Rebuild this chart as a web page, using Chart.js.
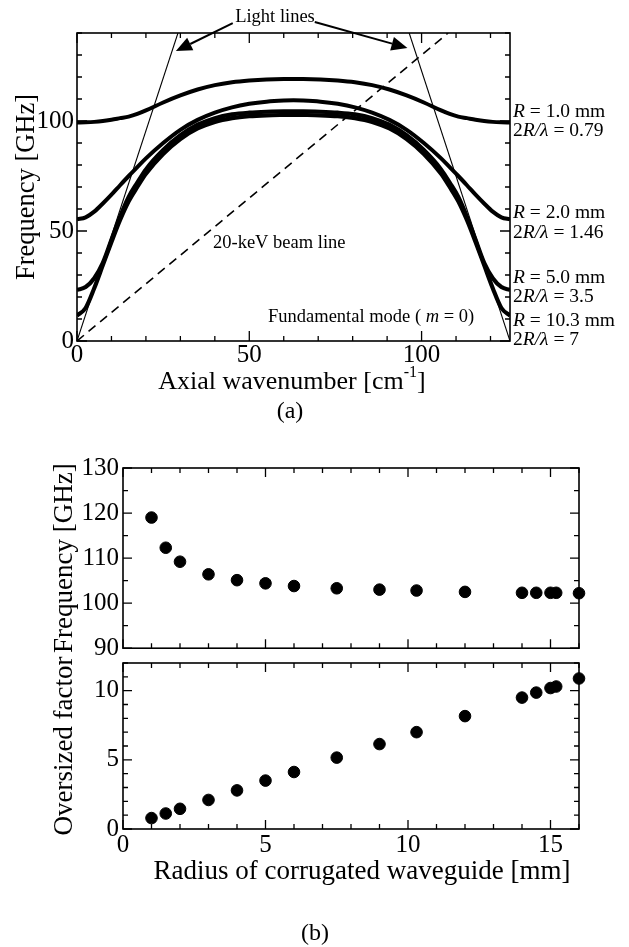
<!DOCTYPE html>
<html><head><meta charset="utf-8">
<script src="https://cdn.jsdelivr.net/npm/chart.js@4.4.1/dist/chart.umd.min.js"></script>
<style>
html,body{margin:0;padding:0;background:#fff;}
body{width:629px;height:947px;position:relative;overflow:hidden;font-family:'Liberation Serif','Times New Roman',serif;}
.c{position:absolute;left:0;width:629px;}
.lbl{position:absolute;font-size:24px;color:#000;transform:translate(-50%,-50%);white-space:nowrap;line-height:1;}
</style></head><body>
<div class="c" style="top:0;height:400px"><canvas id="ca"></canvas></div>
<div class="c" style="top:440px;height:215px"><canvas id="cb1"></canvas></div>
<div class="c" style="top:655px;height:292px"><canvas id="cb2"></canvas></div>
<div class="lbl" style="left:290px;top:410px">(a)</div>
<div class="lbl" style="left:315px;top:932px">(b)</div>
<script>
// ---------- (a) dispersion curves ----------
const kA = [0,2.5,5,7.5,10,12.5,15,17.5,20,25,30,35,40,45,50,55,60,62.83,65.66,70.66,75.66,80.66,85.66,90.66,95.66,100.66,105.66,108.16,110.66,113.16,115.66,118.16,120.66,123.16,125.66];
const fR1 = [99.3,99.4,99.6,100.0,100.6,101.3,102.0,103.2,104.8,108.4,111.6,114.3,116.3,117.6,118.4,118.9,119.1,119.1,119.1,118.9,118.4,117.6,116.3,114.3,111.6,108.4,104.8,103.2,102.0,101.3,100.6,100.0,99.6,99.4,99.3];
const fR2 = [55.3,56.2,58.8,62.5,66.5,70.8,75.0,79.0,83.0,90.0,96.0,100.5,103.8,106.2,107.8,108.8,109.3,109.4,109.3,108.8,107.8,106.2,103.8,100.5,96.0,90.0,83.0,79.0,75.0,70.8,66.5,62.5,58.8,56.2,55.3];
const fR5 = [23.2,24.5,28.5,35.5,46.0,56.5,65.5,72.0,78.0,86.8,93.5,98.3,101.3,103.0,103.8,104.2,104.4,104.4,104.4,104.2,103.8,103.0,101.3,98.3,93.5,86.8,78.0,72.0,65.5,56.5,46.0,35.5,28.5,24.5,23.2];
const fR10 = [11.5,15.0,24.0,34.5,45.0,55.0,63.5,70.0,76.0,85.0,91.8,96.6,99.6,101.3,102.2,102.6,102.75,102.8,102.75,102.6,102.2,101.3,99.6,96.6,91.8,85.0,76.0,70.0,63.5,55.0,45.0,34.5,24.0,15.0,11.5];
const lightLeftK = [0, 29.3];
const lightLeftF = [0, 140];
const lightRightK = [125.66, 96.4];
const lightRightF = [0, 140];
const beamK = [0, 107.7];
const beamF = [0, 140];
const aXLabels = [0,50,100];
const aYLabels = [0,50,100];
const aXMinor = [10,20,30,40,60,70,80,90,110,120];
const aYMinor = [10,20,30,40,60,70,80,90,110,120,130,140];

// ---------- (b) ----------
const radius = [1,1.5,2,3,4,5,6,7.5,9,10.3,12,14,14.5,15,15.2,16];
const freqB = [119.0,112.3,109.2,106.4,105.1,104.4,103.8,103.3,103.0,102.8,102.5,102.3,102.3,102.3,102.3,102.2];
const overB = [0.79,1.12,1.46,2.1,2.79,3.5,4.12,5.16,6.14,7.0,8.16,9.5,9.86,10.19,10.3,10.88];
const bXLabels = [0,5,10,15];
const bXMinor = [1,2,3,4,6,7,8,9,11,12,13,14,16];
const b1YLabels = [90,100,110,120,130];
const b1YMinor = [95,105,115,125];
const b2YLabels = [0,5,10];
const b2YMinor = [1,2,3,4,6,7,8,9,11,12];

const FONT = "'Liberation Serif','Times New Roman',serif";
const pts = (xs, ys) => xs.map((v,i)=>({x:v, y:ys[i]}));
const noPad = s => { s.paddingTop=0; s.paddingBottom=0; s.paddingLeft=0; s.paddingRight=0; };

function boxTicks(cfg){
  return {id:'boxTicks', beforeDatasetsDraw(chart){
    const {ctx, chartArea:{left,right,top,bottom}, scales:{x,y}} = chart;
    ctx.save(); ctx.strokeStyle='#000'; ctx.lineWidth=1.3;
    ctx.beginPath();
    const tx=(v,len)=>{const p=x.getPixelForValue(v); ctx.moveTo(p,bottom); ctx.lineTo(p,bottom-len); ctx.moveTo(p,top); ctx.lineTo(p,top+len);};
    const ty=(v,len)=>{const p=y.getPixelForValue(v); ctx.moveTo(left,p); ctx.lineTo(left+len,p); ctx.moveTo(right,p); ctx.lineTo(right-len,p);};
    cfg.xMaj.forEach(v=>tx(v,cfg.maj)); cfg.xMin.forEach(v=>tx(v,cfg.min));
    cfg.yMaj.forEach(v=>ty(v,cfg.maj)); cfg.yMin.forEach(v=>ty(v,cfg.min));
    ctx.stroke();
    ctx.lineWidth=1.6; ctx.strokeRect(left,top,right-left,bottom-top);
    ctx.restore();
  }};
}

function drawSegs(ctx, segs, x, y, size, align){
  const fonts = segs.map(s=>`${s[1]?'italic ':''}${(size*(s[2]||1)).toFixed(1)}px ${FONT}`);
  let w=0;
  segs.forEach((s,i)=>{ctx.font=fonts[i]; w+=ctx.measureText(s[0]).width;});
  let cx = align==='center' ? x-w/2 : (align==='right' ? x-w : x);
  ctx.textBaseline='alphabetic'; ctx.textAlign='left'; ctx.fillStyle='#000';
  segs.forEach((s,i)=>{ctx.font=fonts[i]; ctx.fillText(s[0], cx, y+(s[3]||0)); cx+=ctx.measureText(s[0]).width;});
}

function arrow(ctx, x1,y1,x2,y2){
  const a=Math.atan2(y2-y1,x2-x1), L=16, H=7;
  const bx=x2-L*Math.cos(a), by=y2-L*Math.sin(a);
  ctx.beginPath(); ctx.moveTo(x1,y1); ctx.lineTo(bx,by); ctx.lineWidth=2; ctx.stroke();
  ctx.beginPath(); ctx.moveTo(x2,y2);
  ctx.lineTo(bx+H*Math.sin(a), by-H*Math.cos(a));
  ctx.lineTo(bx-H*Math.sin(a), by+H*Math.cos(a));
  ctx.closePath(); ctx.fill();
}

const annotA = {id:'annotA', afterDraw(chart){
  const {ctx, scales:{x,y}} = chart;
  ctx.save(); ctx.fillStyle='#000'; ctx.strokeStyle='#000';
  drawSegs(ctx, [['Light lines']], 275, 22, 18.5, 'center');
  arrow(ctx, x.getPixelForValue(45.2), y.getPixelForValue(144.5), x.getPixelForValue(28.7), y.getPixelForValue(131.8));
  arrow(ctx, x.getPixelForValue(69.0), y.getPixelForValue(145.0), x.getPixelForValue(95.9), y.getPixelForValue(133.2));
  drawSegs(ctx, [['20-keV beam line']], 213, 248, 18.5, 'left');
  drawSegs(ctx, [['Fundamental mode ( '],['m',true],[' = 0)']], 268, 322, 18.5, 'left');
  const R = [['1.0 mm','0.79',116.5,136],['2.0 mm','1.46',218,238],['5.0 mm','3.5',283,301.5],['10.3 mm','7',326,345]];
  R.forEach(r=>{
    drawSegs(ctx, [['R',true],[' = '+r[0]]], 513, r[2], 19.5, 'left');
    drawSegs(ctx, [['2'],['R/λ',true],[' = '+r[1]]], 513, r[3], 19.5, 'left');
  });
  drawSegs(ctx, [['Axial wavenumber [cm'],['-1',false,0.62,-12],[']']], 292, 389, 26, 'center');
  ctx.restore();
}};

const curve = (ys, w) => ({data: pts(kA, ys), borderColor:'#000', borderWidth:w, pointRadius:0, cubicInterpolationMode:'monotone', fill:false});
const thin = (xs, ys, dash, w) => ({data: pts(xs, ys), borderColor:'#000', borderWidth:w, pointRadius:0, borderDash:dash, fill:false, tension:0});

const tickFont = size => ({family:FONT, size:size, lineHeight:1});

new Chart(document.getElementById('ca'), {
  type:'line',
  data:{datasets:[
    thin(lightLeftK, lightLeftF, [], 1.1),
    thin(lightRightK, lightRightF, [], 1.1),
    thin(beamK, beamF, [9,6], 1.6),
    curve(fR1, 4), curve(fR2, 4), curve(fR5, 4.2), curve(fR10, 4.2)
  ]},
  options:{
    animation:false, responsive:true, maintainAspectRatio:false,
    layout:{padding:{left:0,top:33,right:119,bottom:0}},
    plugins:{legend:{display:false}, tooltip:{enabled:false}},
    scales:{
      x:{type:'linear', min:0, max:125.66, grid:{display:false, drawTicks:false}, border:{display:false},
         ticks:{font:tickFont(25), color:'#000', padding:2, maxRotation:0, autoSkip:false},
         afterBuildTicks:s=>{s.ticks=aXLabels.map(v=>({value:v}));}, afterFit:s=>{s.height=59; noPad(s);}},
      y:{type:'linear', min:0, max:140, grid:{display:false, drawTicks:false}, border:{display:false},
         ticks:{font:tickFont(25), color:'#000', padding:3, autoSkip:false},
         afterBuildTicks:s=>{s.ticks=aYLabels.map(v=>({value:v}));}, afterFit:s=>{s.width=77; noPad(s);},
         title:{display:true, text:'Frequency [GHz]', color:'#000', font:{family:FONT,size:26.5,lineHeight:1}, padding:{top:14,bottom:0}}}
    }
  },
  plugins:[boxTicks({xMaj:aXLabels,xMin:aXMinor,yMaj:aYLabels,yMin:aYMinor,maj:10,min:5}), annotA]
});

const dots = (ys) => ({data: pts(radius, ys), backgroundColor:'#000', borderColor:'#000', pointRadius:5.8, pointHoverRadius:5.8, showLine:false, clip:false});

new Chart(document.getElementById('cb1'), {
  type:'scatter',
  data:{datasets:[dots(freqB)]},
  options:{
    animation:false, responsive:true, maintainAspectRatio:false,
    layout:{padding:{left:0,top:28,right:50,bottom:6}},
    plugins:{legend:{display:false}, tooltip:{enabled:false}},
    scales:{
      x:{type:'linear', min:0, max:16, display:false},
      y:{type:'linear', min:90, max:130, grid:{display:false, drawTicks:false}, border:{display:false},
         ticks:{font:tickFont(25), color:'#000', padding:4, autoSkip:false},
         afterBuildTicks:s=>{s.ticks=b1YLabels.map(v=>({value:v}));}, afterFit:s=>{s.width=123; noPad(s);},
         title:{display:true, text:'Frequency [GHz]', color:'#000', font:{family:FONT,size:27,lineHeight:1}, padding:{top:51,bottom:0}}}
    }
  },
  plugins:[boxTicks({xMaj:bXLabels,xMin:bXMinor,yMaj:b1YLabels,yMin:b1YMinor,maj:9,min:5})]
});

const annotB2 = {id:'annotB2', afterDraw(chart){
  const {ctx} = chart;
  ctx.save();
  drawSegs(ctx, [['Radius of corrugated waveguide [mm]']], 362, 879-655, 27, 'center');
  ctx.restore();
}};

new Chart(document.getElementById('cb2'), {
  type:'scatter',
  data:{datasets:[dots(overB)]},
  options:{
    animation:false, responsive:true, maintainAspectRatio:false,
    layout:{padding:{left:0,top:8,right:50,bottom:0}},
    plugins:{legend:{display:false}, tooltip:{enabled:false}},
    scales:{
      x:{type:'linear', min:0, max:16, grid:{display:false, drawTicks:false}, border:{display:false},
         ticks:{font:tickFont(25), color:'#000', padding:4, maxRotation:0, autoSkip:false},
         afterBuildTicks:s=>{s.ticks=bXLabels.map(v=>({value:v}));}, afterFit:s=>{s.height=118; noPad(s);}},
      y:{type:'linear', min:0, max:12, grid:{display:false, drawTicks:false}, border:{display:false},
         ticks:{font:tickFont(25), color:'#000', padding:4, autoSkip:false},
         afterBuildTicks:s=>{s.ticks=b2YLabels.map(v=>({value:v}));}, afterFit:s=>{s.width=123; noPad(s);},
         title:{display:true, text:'Oversized factor', color:'#000', font:{family:FONT,size:27,lineHeight:1}, padding:{top:51,bottom:0}}}
    }
  },
  plugins:[boxTicks({xMaj:bXLabels,xMin:bXMinor,yMaj:b2YLabels,yMin:b2YMinor,maj:9,min:5}), annotB2]
});
</script>
</body></html>
